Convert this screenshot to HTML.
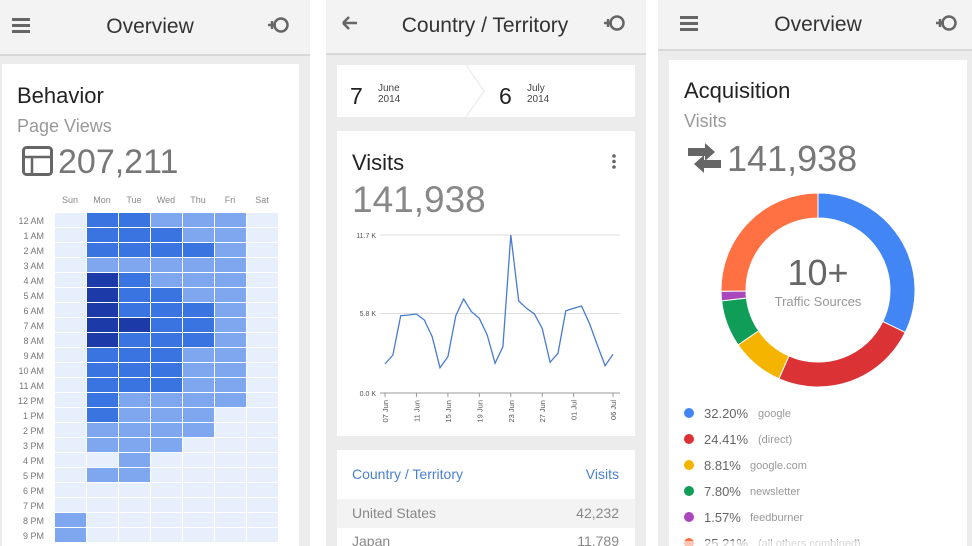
<!DOCTYPE html>
<html><head><meta charset="utf-8"><style>
html,body{margin:0;padding:0;background:#fff;}
svg{display:block;font-family:"Liberation Sans",sans-serif;}
</style></head><body>
<svg id="s" width="972" height="546" viewBox="0 0 972 546" xmlns="http://www.w3.org/2000/svg">
<rect x="0" y="0" width="310" height="546" fill="#ececec"/>
<rect x="326" y="0" width="320" height="546" fill="#ececec"/>
<rect x="658" y="0" width="314" height="546" fill="#ececec"/>
<rect x="0" y="0" width="310" height="54" fill="#f3f3f3"/><rect x="0" y="54" width="310" height="2" fill="#d8d8d8"/>
<rect x="326" y="0" width="320" height="53" fill="#f3f3f3"/><rect x="326" y="53" width="320" height="2" fill="#d8d8d8"/>
<rect x="658" y="0" width="314" height="49" fill="#f3f3f3"/><rect x="658" y="49" width="314" height="2" fill="#d8d8d8"/>
<g fill="#666"><rect x="12" y="18" width="18" height="3"/><rect x="12" y="24" width="18" height="3"/><rect x="12" y="30" width="18" height="3"/></g>
<text x="150" y="33" font-size="21" text-anchor="middle" fill="#333">Overview</text>
<g stroke="#666" stroke-width="2.5" fill="none"><circle cx="281" cy="25" r="6.5"/><path d="M268 25h8M272 21v8"/></g>
<path d="M343 23h14M343 23l6-6M343 23l6 6" stroke="#666" stroke-width="2.5" fill="none"/>
<text x="485" y="32" font-size="21" text-anchor="middle" fill="#333">Country / Territory</text>
<g stroke="#666" stroke-width="2.5" fill="none"><circle cx="617" cy="23" r="6.5"/><path d="M604 23h8M608 19v8"/></g>
<g fill="#666"><rect x="680" y="16" width="18" height="3"/><rect x="680" y="22" width="18" height="3"/><rect x="680" y="28" width="18" height="3"/></g>
<text x="818" y="31" font-size="21" text-anchor="middle" fill="#333">Overview</text>
<g stroke="#666" stroke-width="2.5" fill="none"><circle cx="949" cy="23" r="6.5"/><path d="M936 23h8M940 19v8"/></g>

<rect x="2" y="64" width="297" height="482" fill="#fff"/>
<text x="17" y="103" font-size="22" fill="#222">Behavior</text>
<text x="17" y="132" font-size="18" fill="#999">Page Views</text>
<rect x="23.5" y="147.5" width="28" height="27" rx="3" fill="none" stroke="#666" stroke-width="3"/>
<path d="M24 157h27M32 157v17" stroke="#666" stroke-width="2.5"/>
<text x="58" y="173" font-size="34" fill="#777">207,211</text>
<g id="heat"></g>

<rect x="337" y="65" width="298" height="52" fill="#fff"/>
<path d="M466 65l18 26-18 26" stroke="#eee" stroke-width="1.5" fill="none"/>
<text x="350" y="104" font-size="23" fill="#222">7</text>
<text x="378" y="91" font-size="10" fill="#444">June</text>
<text x="378" y="102" font-size="10" fill="#444">2014</text>
<text x="499" y="104" font-size="23" fill="#222">6</text>
<text x="527" y="91" font-size="10" fill="#444">July</text>
<text x="527" y="102" font-size="10" fill="#444">2014</text>
<rect x="337" y="131" width="298" height="305" fill="#fff"/>
<text x="352" y="170" font-size="22" fill="#222">Visits</text>
<g fill="#666"><circle cx="614" cy="156" r="1.8"/><circle cx="614" cy="161.5" r="1.8"/><circle cx="614" cy="167" r="1.8"/></g>
<text x="352" y="212" font-size="37" fill="#888">141,938</text>
<g stroke="#ddd" stroke-width="1"><path d="M380 235h240M380 313.5h240"/></g>
<path d="M380 393h240" stroke="#999" stroke-width="1"/>
<g font-size="7" fill="#555" text-anchor="end"><text x="376" y="238">11.7 K</text><text x="376" y="316">5.8 K</text><text x="376" y="396">0.0 K</text></g>
<g id="xt"></g>
<polyline id="ln" fill="none" stroke="#4a7bd0" stroke-width="1.3"/>
<rect x="337" y="450" width="298" height="96" fill="#fff"/>
<text x="352" y="479" font-size="14" fill="#4a80d0">Country / Territory</text>
<text x="619" y="479" font-size="14" fill="#4a80d0" text-anchor="end">Visits</text>
<rect x="337" y="499" width="298" height="29" fill="#f3f3f3"/>
<text x="352" y="518" font-size="14" fill="#888">United States</text>
<text x="619" y="518" font-size="14" fill="#888" text-anchor="end">42,232</text>
<text x="352" y="546" font-size="14" fill="#888">Japan</text>
<text x="619" y="546" font-size="14" fill="#888" text-anchor="end">11,789</text>

<rect x="669" y="60" width="298" height="486" fill="#fff"/>
<text x="684" y="98" font-size="22" fill="#222">Acquisition</text>
<text x="684" y="127" font-size="18" fill="#999">Visits</text>
<g fill="#666"><path d="M688 148h17v-5l10 9-10 9v-5h-17z"/><path d="M721 165h-17v-5l-10 9 10 9v-5h17z" transform="translate(0,-5)"/></g>
<text x="727" y="171" font-size="36" fill="#777">141,938</text>
<g id="donut"></g>
<text x="818" y="285" font-size="36" fill="#666" text-anchor="middle">10+</text>
<text x="818" y="306" font-size="13" fill="#999" text-anchor="middle">Traffic Sources</text>
<g font-size="13">
<circle cx="689" cy="413" r="5" fill="#4285f4"/><text x="704" y="418" fill="#666">32.20%</text><text x="758" y="417" font-size="11" fill="#999">google</text>
<circle cx="689" cy="439" r="5" fill="#db3236"/><text x="704" y="444" fill="#666">24.41%</text><text x="758" y="443" font-size="11" fill="#999">(direct)</text>
<circle cx="689" cy="465" r="5" fill="#f4b400"/><text x="704" y="470" fill="#666">8.81%</text><text x="750" y="469" font-size="11" fill="#999">google.com</text>
<circle cx="689" cy="491" r="5" fill="#0f9d58"/><text x="704" y="496" fill="#666">7.80%</text><text x="750" y="495" font-size="11" fill="#999">newsletter</text>
<circle cx="689" cy="517" r="5" fill="#ab47bc"/><text x="704" y="522" fill="#666">1.57%</text><text x="750" y="521" font-size="11" fill="#999">feedburner</text>
<circle cx="689" cy="543" r="5" fill="#ff7043"/><text x="704" y="548" fill="#666">25.21%</text><text x="758" y="547" font-size="11" fill="#999">(all others combined)</text>
</g>
<rect x="669" y="541" width="298" height="5" fill="#fff" opacity="0.6"/>
</svg>
<script>
var NS="http://www.w3.org/2000/svg";
function el(t,a,p,txt){var e=document.createElementNS(NS,t);for(var k in a)e.setAttribute(k,a[k]);if(txt)e.textContent=txt;p.appendChild(e);return e;}
var g=document.getElementById('heat');
var cols=["#e8effc","#7ea7ef","#3a74e0","#1c3aa8"];
var grid=["0221110","0222110","0222210","0111110","0321110","0322110","0322210","0332210","0322210","0222110","0222110","0222110","0211110","0211100","0111100","0111000","0010000","0110000","0000000","0000000","1000000","1000000"];
var hrs=["12 AM","1 AM","2 AM","3 AM","4 AM","5 AM","6 AM","7 AM","8 AM","9 AM","10 AM","11 AM","12 PM","1 PM","2 PM","3 PM","4 PM","5 PM","6 PM","7 PM","8 PM","9 PM"];
var days=["Sun","Mon","Tue","Wed","Thu","Fri","Sat"];
days.forEach(function(d,i){el('text',{x:70+i*32,y:203,'font-size':9,fill:'#888','text-anchor':'middle'},g,d);});
grid.forEach(function(r,j){
 el('text',{x:44,y:224+j*15,'font-size':9,fill:'#777','text-anchor':'end'},g,hrs[j]);
 for(var i=0;i<7;i++)el('rect',{x:55+i*32,y:213+j*15,width:31,height:14,fill:cols[+r[i]]},g);
});
var v=[432,405,287,285,282,300,350,443,410,287,237,275,295,345,430,380,45,243,265,282,325,427,400,272,265,258,310,375,437,403];
var pts=v.map(function(y,i){return (385+i*7.862).toFixed(1)+","+(220+y/3).toFixed(1);}).join(" ");
document.getElementById('ln').setAttribute('points',pts);
var xt=document.getElementById('xt');
var labs=["07 Jun","11 Jun","15 Jun","19 Jun","23 Jun","27 Jun","01 Jul","06 Jul"],idx=[0,4,8,12,16,20,24,29];
labs.forEach(function(l,k){var x=385+idx[k]*7.862;el('line',{x1:x,y1:393,x2:x,y2:397,stroke:'#999'},xt);
 el('text',{x:x+3,y:400,'font-size':7.5,fill:'#555','text-anchor':'end',transform:'rotate(-90 '+(x+3)+' 400)'},xt,l);});
var dg=document.getElementById('donut');
var segs=[[32.2,"#4285f4"],[24.41,"#db3236"],[8.81,"#f4b400"],[7.8,"#0f9d58"],[1.57,"#ab47bc"],[25.21,"#ff7043"]];
var cx=818,cy=290,R=97,r=72,a=0;
segs.forEach(function(s){var a0=a/100*2*Math.PI,a1=(a+s[0])/100*2*Math.PI;a+=s[0];
 function p(rr,t){return (cx+rr*Math.sin(t)).toFixed(2)+" "+(cy-rr*Math.cos(t)).toFixed(2);}
 var lg=(a1-a0)>Math.PI?1:0;
 el('path',{d:"M"+p(R,a0)+" A"+R+" "+R+" 0 "+lg+" 1 "+p(R,a1)+" L"+p(r,a1)+" A"+r+" "+r+" 0 "+lg+" 0 "+p(r,a0)+"Z",fill:s[1],stroke:'#fff','stroke-width':1},dg);});
</script>
</body></html>
